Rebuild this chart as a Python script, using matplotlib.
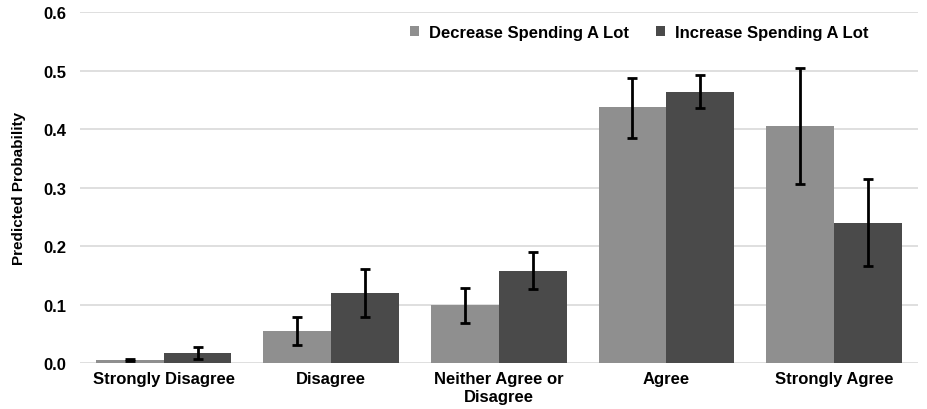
import numpy as np
import matplotlib.pyplot as plt

plt.rcParams['font.family'] = ['Liberation Sans', 'DejaVu Sans']
plt.rcParams['font.weight'] = 'bold'
plt.rcParams['axes.labelweight'] = 'bold'

categories = ["Strongly Disagree", "Disagree", "Neither Agree or\nDisagree",
              "Agree", "Strongly Agree"]
decrease = [0.005, 0.055, 0.099, 0.437, 0.405]
decrease_lo = [0.003, 0.031, 0.069, 0.385, 0.306]
decrease_hi = [0.007, 0.078, 0.128, 0.488, 0.504]
increase = [0.017, 0.120, 0.158, 0.463, 0.240]
increase_lo = [0.007, 0.079, 0.127, 0.436, 0.166]
increase_hi = [0.028, 0.161, 0.190, 0.492, 0.315]


def err(vals, lo, hi):
    vals, lo, hi = map(np.asarray, (vals, lo, hi))
    return np.vstack([vals - lo, hi - vals])


fig = plt.figure(figsize=(9.28, 4.10), dpi=100)
ax = fig.add_axes([0.086, 0.112, 0.903, 0.856])

x = np.arange(len(categories))
w = 0.405
ekw = dict(ecolor="black", elinewidth=2, capsize=3.5, capthick=2)
ax.bar(x - w / 2, decrease, w, color="#8f8f8f", label="Decrease Spending A Lot",
       yerr=err(decrease, decrease_lo, decrease_hi), error_kw=ekw, zorder=2)
ax.bar(x + w / 2, increase, w, color="#4a4a4a", label="Increase Spending A Lot",
       yerr=err(increase, increase_lo, increase_hi), error_kw=ekw, zorder=2)

ax.set_ylim(0, 0.6)
ax.set_xlim(-0.5, len(categories) - 0.5)
ax.set_yticks(np.arange(0, 0.61, 0.1))
ax.set_yticklabels([f"{v:.1f}" for v in np.arange(0, 0.61, 0.1)])
ax.set_xticks(x)
ax.set_xticklabels(categories, fontsize=12, linespacing=1.25)
ax.tick_params(axis="y", labelsize=12, length=0, pad=10)
ax.tick_params(axis="x", length=0, pad=6)
ax.grid(axis="y", color="#d9d9d9", linewidth=1.2, zorder=0)
for s in ax.spines.values():
    s.set_visible(False)

ax.set_ylabel("Predicted Probability", fontsize=11, labelpad=12)
ax.legend(loc="center", bbox_to_anchor=(0.668, 0.943), ncol=2, frameon=False,
          fontsize=12, handlelength=0.55, handleheight=0.55, handletextpad=0.6,
          columnspacing=1.6)

fig.savefig("out.png", dpi=100)
